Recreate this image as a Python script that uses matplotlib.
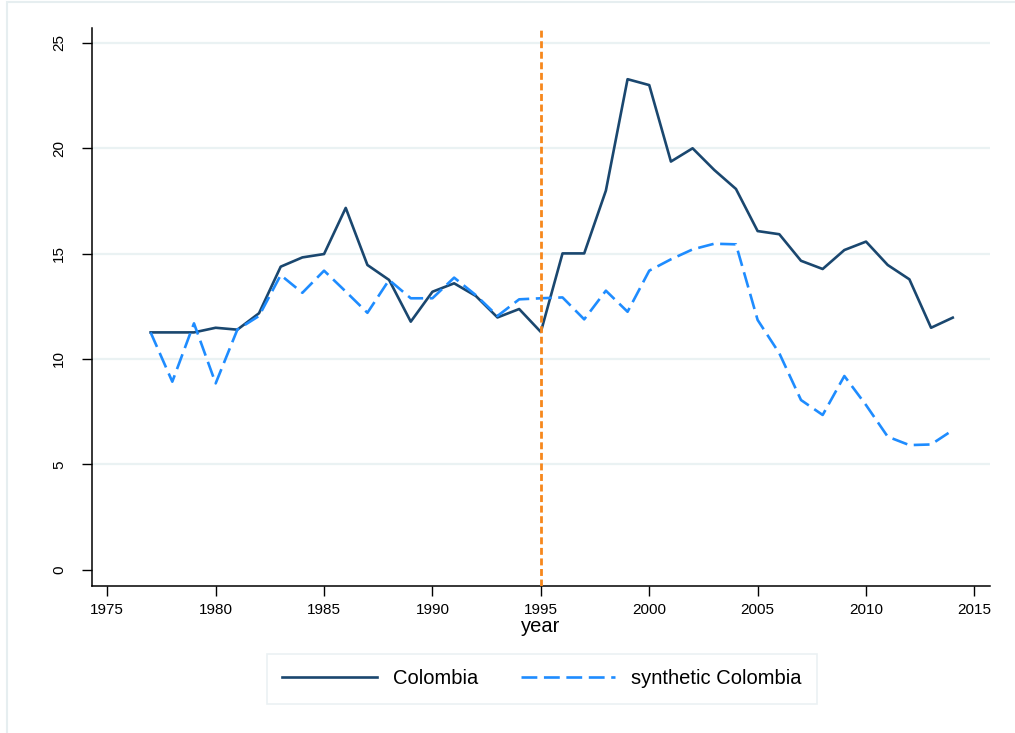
import numpy as np
import matplotlib.pyplot as plt
from matplotlib.patches import Rectangle

plt.rcParams['font.family'] = ['Liberation Sans', 'DejaVu Sans']

years = list(range(1977, 2015))
colombia = [11.26, 11.26, 11.26, 11.48, 11.39, 12.17, 14.38, 14.82, 14.98, 17.17,
            14.46, 13.75, 11.77, 13.19, 13.59, 12.99, 11.97, 12.37, 11.28, 15.01,
            15.01, 17.99, 23.28, 23.00, 19.37, 20.00, 18.97, 18.07, 16.07, 15.92,
            14.66, 14.27, 15.17, 15.57, 14.46, 13.78, 11.48, 11.96]
synthetic = [11.26, 8.92, 11.69, 8.84, 11.39, 12.04, 13.98, 13.14, 14.19, 13.20,
             12.19, 13.75, 12.88, 12.88, 13.86, 13.03, 12.04, 12.83, 12.88, 12.92,
             11.88, 13.24, 12.24, 14.19, 14.73, 15.20, 15.47, 15.44, 11.85, 10.27,
             8.05, 7.34, 9.19, 7.81, 6.31, 5.91, 5.94, 6.62]
treat_year = 1995
yticks = [0, 5, 10, 15, 20, 25]
xticks = [1975, 1980, 1985, 1990, 1995, 2000, 2005, 2010, 2015]

navy = '#1a476f'
blue = '#1e8cff'
orange = '#f7871c'
grid_col = '#eaf2f3'

fig = plt.figure(figsize=(10.15, 7.33), dpi=100)
ax = fig.add_axes([0.0903, 0.2005, 0.8851, 0.7613])

# outer graph region border
fig.patches.append(Rectangle((7 / 1015, -0.05), 1.1, 1 - 2 / 733 + 0.05,
                             transform=fig.transFigure, fill=False,
                             edgecolor='#e6eef0', lw=1.5, zorder=0))

for y in yticks[1:]:
    ax.axhline(y, color=grid_col, lw=1.6, zorder=0)

ax.plot(years, colombia, color=navy, lw=1.9, label='Colombia', zorder=3)
ax.plot(years, synthetic, color=blue, lw=1.9, dashes=(6, 2.5),
        label='synthetic Colombia', zorder=3)
ax.axvline(treat_year, color=orange, lw=2.0, dashes=(2.5, 1.3), zorder=4)

ax.set_xlim(1974.28, 2015.72)
ax.set_ylim(-0.78, 25.71)
ax.set_xticks(xticks)
ax.set_yticks(yticks)
ax.set_yticklabels([str(v) for v in yticks], rotation=90, va='center')
ax.tick_params(axis='both', direction='out', length=7.5, width=1,
               labelsize=11, color='black')
ax.tick_params(axis='y', pad=11)
ax.tick_params(axis='x', pad=5)
for s in ['top', 'right']:
    ax.spines[s].set_visible(False)
for s in ['left', 'bottom']:
    ax.spines[s].set_linewidth(1.1)

ax.set_xlabel('year', fontsize=14.5, labelpad=0)

leg = fig.legend(loc='center', bbox_to_anchor=(0.534, 0.0737), ncol=2,
                 fontsize=14.5, frameon=True, fancybox=False,
                 handlelength=4.7, handletextpad=0.8, columnspacing=2.1,
                 borderpad=0.75)
leg.get_frame().set_edgecolor('#e6eef0')
leg.get_frame().set_linewidth(1.2)

fig.savefig('out.png', dpi=100)
